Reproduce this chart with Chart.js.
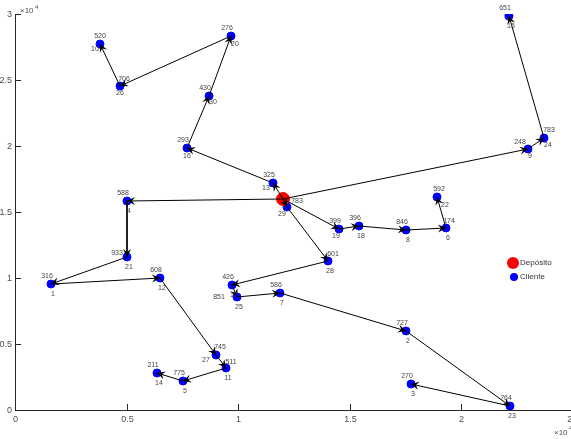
<!DOCTYPE html>
<html>
<head>
<meta charset="utf-8">
<script src="https://cdn.jsdelivr.net/npm/chart.js@4.4.1/dist/chart.umd.min.js"></script>
<style>
  html, body { margin: 0; padding: 0; background: #fff; overflow: hidden; }
</style>
</head>
<body>
<canvas id="myChart" width="580" height="439"></canvas>
<script>
// deposito
var depotX = [12018];
var depotY = [15985];

// clientes: indice, coordenadas y demanda
var clientIds = [1, 2, 3, 4, 5, 6, 7, 8, 9, 10, 11, 12, 13, 14, 15, 16, 17, 18, 19, 20, 21, 22, 23, 24, 25, 26, 27, 28, 29, 30];
var clientX = [1614, 17534, 17758, 5022, 7534, 19327, 11883, 17534, 23004, 3812, 9462, 6502, 11570, 6368, 22152, 7713, 9731, 15426, 14529, 9686, 5022, 18924, 22197, 23722, 9955, 4709, 9013, 14036, 12197, 8700];
var clientY = [9545, 5985, 1970, 15833, 2197, 13788, 8864, 13636, 19773, 27727, 3182, 10000, 17197, 2803, 29848, 19848, 9470, 13939, 13712, 28333, 11591, 16136, 303, 20606, 8561, 24545, 4167, 11288, 15379, 23788];
var demand = [316, 727, 270, 588, 775, 174, 586, 846, 248, 520, 511, 608, 325, 211, 651, 293, 426, 396, 399, 276, 933, 592, 764, 783, 851, 706, 745, 601, 783, 430];

// rutas (0 = deposito)
var routes = [
    [0, 13, 16, 30, 20, 26, 10],
    [0, 4, 21, 1, 12, 27, 11, 5, 14],
    [0, 29, 28, 17, 25, 7, 2, 23, 3],
    [0, 19, 18, 8, 6, 22],
    [0, 9, 24, 15]
];

// desplazamiento de etiquetas (px), solo las que se salen de lo normal
var demandOff = { 29: [10, -6], 25: [-18, 0], 21: [-10, -4], 24: [5, -8], 28: [5, -7], 26: [4, -7], 27: [4, -8], 11: [5, -6], 9: [-8, -7], 6: [3, -7], 10: [0, -8], 22: [2, -8] };
var idOff = { 13: [-7, 5], 10: [-5, 5], 22: [8, 8], 27: [-10, 5], 19: [-3, 7], 29: [-5, 7], 20: [4, 8], 30: [4, 6], 26: [0, 7], 16: [0, 8], 9: [2, 7], 24: [4, 7] };

var FONT = '"Liberation Sans", Arial, sans-serif';

function pt(id) {
    if (id === 0) return { x: depotX[0], y: depotY[0] };
    var i = clientIds.indexOf(id);
    return { x: clientX[i], y: clientY[i] };
}

var clientData = clientIds.map(function (id, i) { return { x: clientX[i], y: clientY[i] }; });

var datasets = routes.map(function (r) {
    return {
        type: 'line',
        data: r.map(pt),
        borderColor: '#000',
        borderWidth: 1,
        pointRadius: 0,
        fill: false,
        tension: 0,
        order: 0
    };
});
datasets.push({
    type: 'scatter',
    label: 'Cliente',
    data: clientData,
    backgroundColor: 'rgb(0,0,255)',
    borderColor: 'rgb(0,0,255)',
    pointRadius: 4,
    order: 2
});
datasets.push({
    type: 'scatter',
    label: 'Depósito',
    data: depotX.map(function (x, i) { return { x: x, y: depotY[i] }; }),
    backgroundColor: 'rgb(255,0,0)',
    borderColor: 'rgb(255,0,0)',
    pointRadius: 6.5,
    order: 1
});

function arrowHead(c, x0, y0, x1, y1) {
    var a = Math.atan2(y1 - y0, x1 - x0);
    var L = 8, W = 4, N = 5;
    c.save();
    c.translate(x1, y1);
    c.rotate(a);
    c.beginPath();
    c.moveTo(0, 0);
    c.lineTo(-L, -W);
    c.lineTo(-N, 0);
    c.lineTo(-L, W);
    c.closePath();
    c.fillStyle = '#000';
    c.fill();
    c.restore();
}

var extras = {
    id: 'extras',
    afterDatasetsDraw: function (chart) {
        var c = chart.ctx, xs = chart.scales.x, ys = chart.scales.y;
        // flechas
        routes.forEach(function (r) {
            for (var k = 1; k < r.length; k++) {
                var a = pt(r[k - 1]), b = pt(r[k]);
                arrowHead(c, xs.getPixelForValue(a.x), ys.getPixelForValue(a.y), xs.getPixelForValue(b.x), ys.getPixelForValue(b.y));
            }
        });
        // etiquetas
        c.save();
        c.font = '7px ' + FONT;
        c.fillStyle = '#444';
        c.textAlign = 'center';
        c.textBaseline = 'middle';
        clientIds.forEach(function (id, i) {
            var px = xs.getPixelForValue(clientX[i]), py = ys.getPixelForValue(clientY[i]);
            var d = demandOff[id] || [-4, -8];
            var o = idOff[id] || [2, 10];
            c.fillText(String(demand[i]), px + d[0], py + d[1]);
            c.fillText(String(id), px + o[0], py + o[1]);
        });
        c.restore();
    },
    afterDraw: function (chart) {
        var c = chart.ctx, xs = chart.scales.x, ys = chart.scales.y, a = chart.chartArea;
        c.save();
        // marcas hacia dentro y etiquetas de los ejes
        c.strokeStyle = '#262626';
        c.lineWidth = 1;
        c.fillStyle = '#4d4d4d';
        c.font = '9px ' + FONT;
        c.textBaseline = 'middle';
        c.textAlign = 'center';
        xs.ticks.forEach(function (t) {
            var px = Math.round(xs.getPixelForValue(t.value)) + 0.5;
            c.beginPath(); c.moveTo(px, a.bottom); c.lineTo(px, a.bottom - 6); c.stroke();
            c.fillText(String(t.value / 10000), px, a.bottom + 10);
        });
        c.textAlign = 'right';
        ys.ticks.forEach(function (t) {
            var py = Math.round(ys.getPixelForValue(t.value)) + 0.5;
            c.beginPath(); c.moveTo(a.left, py); c.lineTo(a.left + 6, py); c.stroke();
            c.fillText(String(t.value / 10000), a.left - 3, py);
        });
        // x10^4
        c.textBaseline = 'alphabetic';
        c.textAlign = 'left';
        c.font = '8px ' + FONT;
        c.fillText('\u00d710', a.left + 5, a.top - 1);
        c.fillText('\u00d710', 554, 435);
        c.font = '6px ' + FONT;
        c.fillText('4', a.left + 20, a.top - 5);
        c.fillText('4', 569, 430);
        // leyenda
        c.fillStyle = 'rgb(255,0,0)';
        c.beginPath(); c.arc(513, 263, 6, 0, Math.PI * 2); c.fill();
        c.fillStyle = 'rgb(0,0,255)';
        c.beginPath(); c.arc(514, 277, 4, 0, Math.PI * 2); c.fill();
        c.fillStyle = '#333';
        c.font = '8px ' + FONT;
        c.textBaseline = 'middle';
        c.fillText('Depósito', 520, 263);
        c.fillText('Cliente', 520, 277);
        c.restore();
    }
};

var ctx = document.getElementById('myChart').getContext('2d');
new Chart(ctx, {
    type: 'scatter',
    data: { datasets: datasets },
    options: {
        responsive: false,
        animation: false,
        devicePixelRatio: 1,
        layout: { padding: { top: 14, right: 7.5, left: 0, bottom: 0 } },
        plugins: { legend: { display: false }, tooltip: { enabled: false } },
        scales: {
            x: {
                type: 'linear',
                min: 0, max: 25000,
                grid: { display: false },
                border: { display: true, color: '#262626', width: 1 },
                afterFit: function (s) { s.height = 29; },
                ticks: { stepSize: 5000, display: false }
            },
            y: {
                type: 'linear',
                min: 0, max: 30000,
                grid: { display: false },
                border: { display: true, color: '#262626', width: 1 },
                afterFit: function (s) { s.width = 15; },
                ticks: { stepSize: 5000, display: false }
            }
        }
    },
    plugins: [extras]
});
</script>
</body>
</html>
